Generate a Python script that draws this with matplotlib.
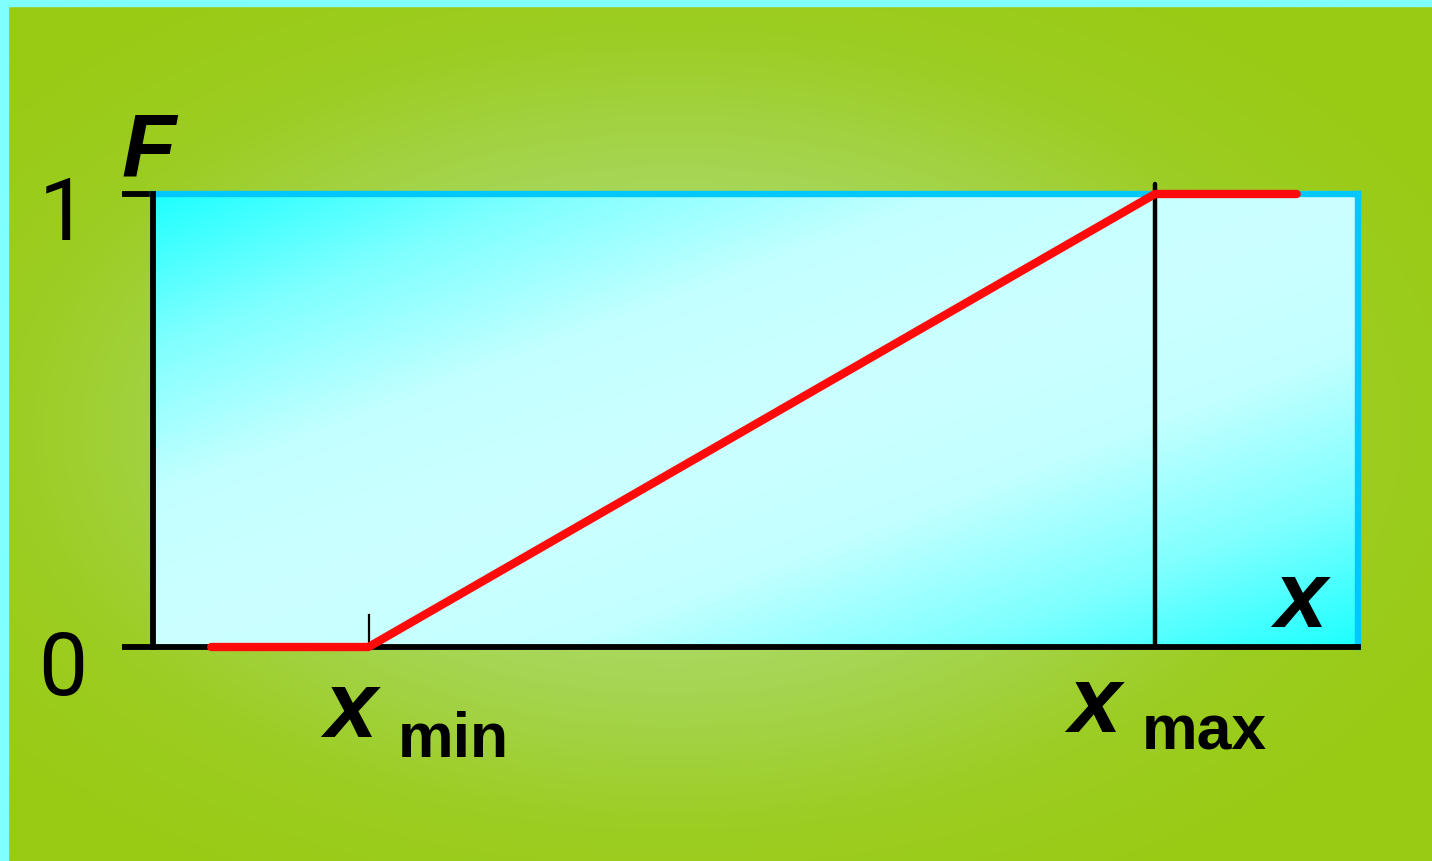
import numpy as np
import matplotlib.pyplot as plt
from matplotlib.colors import LinearSegmentedColormap
from matplotlib.patches import Rectangle

# distribution function F(x) of a uniform variable
x_values = [0.0, 1.0, 6.0, 6.9]
F_values = [0.0, 0.0, 1.0, 1.0]
x_min = 1.0
x_max = 6.0
y_ticks = [0, 1]
y_tick_labels = ['0', '1']

W, H = 1432, 862


def px(x, y):
    # pixel position -> figure fraction
    return x / W, 1 - y / H


def main():
    fig = plt.figure(figsize=(W / 100, H / 100), dpi=100)

    # green background with a soft light centre
    bg = fig.add_axes([0, 0, 1, 1], zorder=-10)
    bg.set_axis_off()
    yy, xx = np.mgrid[0:1:300j, 0:1:500j]
    r = np.sqrt(((xx - 0.47) / 0.62) ** 2 + ((yy - 0.5) / 0.62) ** 2)
    r = np.clip(r, 0, 1)
    green = LinearSegmentedColormap.from_list(
        'g', ['#b4e07e', '#b0dd74', '#a5d550', '#9ccd22', '#99cb14'])
    bg.imshow(r, cmap=green, extent=[0, 1, 0, 1], aspect='auto', vmin=0, vmax=1)
    bg.set_xlim(0, 1)
    bg.set_ylim(0, 1)

    # cyan frame on left and top edges
    fig.patches.append(Rectangle((0, 0), 8 / W, 1, transform=fig.transFigure,
                                 color='#80ffff', zorder=-5))
    fig.patches.append(Rectangle((0, 1 - 7 / H), 1, 7 / H, transform=fig.transFigure,
                                 color='#80ffff', zorder=-5))

    left, bottom = px(153, 648)
    right, top = px(1358, 195)
    ax = fig.add_axes([left, bottom, right - left, top - bottom])
    ax.set_xlim(-0.37, 7.29)
    ax.set_ylim(0, 1)

    # cyan diagonal gradient fill
    gy, gx = np.mgrid[0:1:200j, 0:1:400j]
    t = (gx + (1 - gy)) / 2
    cyan = LinearSegmentedColormap.from_list(
        'c', ['#1effff', '#80ffff', '#c4ffff', '#ccffff', '#c4ffff', '#80ffff', '#1effff'])
    ax.imshow(t, cmap=cyan, extent=[-0.37, 7.29, 0, 1], aspect='auto',
              origin='lower', zorder=0)

    # spines
    for s in ['top', 'right']:
        ax.spines[s].set_color('#00c8ff')
        ax.spines[s].set_linewidth(4.6)
    for s in ['left', 'bottom']:
        ax.spines[s].set_color('black')
        ax.spines[s].set_linewidth(4.2)
        ax.spines[s].set_zorder(5)
    ax.spines['left'].set_zorder(6)

    ax.set_yticks(y_ticks)
    ax.set_yticklabels([])
    ax.tick_params(axis='y', direction='out', length=22, width=4.2, color='black')
    ax.set_xticks([])

    # small tick at x_min and vertical line at x_max
    ax.plot([x_min, x_min], [0, 0.07], color='black', lw=1.6, zorder=4)
    ax.plot([x_max, x_max], [0, 1.022], color='black', lw=3.2, zorder=4,
            clip_on=False, solid_capstyle='round')

    ax.plot(x_values, F_values, color='#ff0a0a', lw=6, zorder=7, clip_on=False,
            solid_capstyle='round', solid_joinstyle='round')

    # labels
    for lab, ypx in zip(y_tick_labels, [695, 240]):
        fig.text(*px(63, ypx), lab, ha='center', va='baseline',
                 fontsize=63, family='Roboto', color='black')
    fig.text(*px(149, 177), 'F', ha='center', va='baseline', fontsize=64,
             family='Liberation Sans', weight='bold', style='italic')
    fig.text(*px(1300, 627), 'x', ha='center', va='baseline', fontsize=68,
             family='Liberation Sans', weight='bold', style='italic')
    fig.text(*px(350, 737), 'x', ha='center', va='baseline', fontsize=68,
             family='Liberation Sans', weight='bold', style='italic')
    fig.text(*px(398, 757), 'min', ha='left', va='baseline', fontsize=45,
             family='Liberation Sans', weight='bold')
    fig.text(*px(1094, 732), 'x', ha='center', va='baseline', fontsize=68,
             family='Liberation Sans', weight='bold', style='italic')
    fig.text(*px(1142, 750), 'max', ha='left', va='baseline', fontsize=45,
             family='Liberation Sans', weight='bold')

    fig.savefig('out.png', dpi=100)


if __name__ == "__main__":
    main()
